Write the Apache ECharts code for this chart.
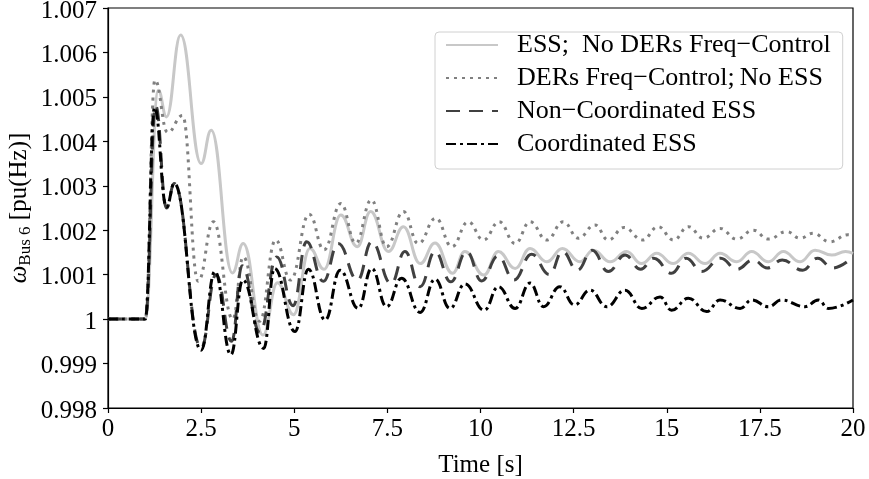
<!DOCTYPE html>
<html>
<head>
<meta charset="utf-8">
<script src="https://cdn.jsdelivr.net/npm/echarts@6/dist/echarts.min.js"></script>
<style>
html,body{margin:0;padding:0;background:#fff;}
#chart{width:869px;height:479px;}
</style>
</head>
<body>
<div id="chart"></div>
<script>
// ---- Data ----
const seriesNames = ['ESS;  No DERs Freq\u2212Control', 'DERs Freq\u2212Control;\u2009No ESS', 'Non\u2212Coordinated ESS', 'Coordinated ESS'];

const xTicks = [0, 2.5, 5, 7.5, 10, 12.5, 15, 17.5, 20];
const yTicks = [0.998, 0.999, 1.000, 1.001, 1.002, 1.003, 1.004, 1.005, 1.006, 1.007];

// ESS; No DERs Freq-Control (light gray solid)
const essT = [0, 1.0, 1.35, 1.57, 1.95, 2.5, 2.77, 3.34, 3.63, 4.16, 4.55, 4.98, 5.42, 5.8, 6.25, 6.69, 7.05, 7.53, 7.93, 8.38, 8.78, 9.25, 9.58, 10.09, 10.48, 10.93, 11.33, 11.78, 12.2, 12.67, 13.03, 13.48, 13.92, 14.32, 14.73, 15.17, 15.58, 16.03, 16.43, 16.88, 17.28, 17.73, 18.13, 18.58, 18.98, 19.43, 19.8, 20];
const essY = [1.0, 1.0, 1.00515, 1.00455, 1.00639, 1.0035, 1.00425, 1.00104, 1.0017, 0.99964, 1.00082, 1.0001, 1.00159, 1.00112, 1.00234, 1.00163, 1.00242, 1.00152, 1.00208, 1.00125, 1.00171, 1.00103, 1.00152, 1.00099, 1.00152, 1.00114, 1.00159, 1.00129, 1.00159, 1.00129, 1.00155, 1.00129, 1.00152, 1.00125, 1.00148, 1.00125, 1.00148, 1.00125, 1.00148, 1.00129, 1.00152, 1.00129, 1.00152, 1.00129, 1.00155, 1.00144, 1.00152, 1.00148];

// DERs Freq-Control; No ESS (gray dotted)
const dersT = [0, 1.0, 1.26, 1.6, 2.0, 2.42, 2.83, 3.35, 3.63, 4.07, 4.5, 4.9, 5.4, 5.8, 6.25, 6.65, 7.07, 7.48, 7.93, 8.33, 8.8, 9.23, 9.67, 10.08, 10.5, 10.93, 11.33, 11.78, 12.22, 12.63, 13.07, 13.43, 13.85, 14.35, 14.77, 15.18, 15.58, 15.98, 16.43, 16.88, 17.32, 17.73, 18.22, 18.58, 18.93, 19.38, 19.87, 20];
const dersY = [1.0, 1.0, 1.00538, 1.0042, 1.00458, 1.00085, 1.00219, 1.0, 1.0014, 0.99995, 1.00178, 1.00088, 1.00236, 1.00156, 1.0026, 1.00171, 1.00268, 1.00163, 1.00242, 1.0017, 1.00227, 1.00163, 1.00219, 1.00178, 1.00219, 1.0017, 1.00219, 1.00178, 1.00219, 1.00182, 1.00212, 1.00178, 1.00206, 1.00178, 1.00208, 1.00178, 1.00208, 1.00182, 1.00204, 1.0018, 1.002, 1.0018, 1.00197, 1.00182, 1.00193, 1.00174, 1.0019, 1.00188];

// Non-Coordinated ESS (dark gray dashed)
const ncT = [0, 1.0, 1.28, 1.57, 1.78, 2.5, 2.9, 3.32, 3.6, 4.08, 4.53, 4.97, 5.33, 5.78, 6.18, 6.7, 7.08, 7.6, 7.97, 8.38, 8.78, 9.2, 9.63, 10.03, 10.47, 10.9, 11.37, 11.85, 12.2, 12.6, 13.0, 13.43, 13.88, 14.3, 14.65, 15.13, 15.52, 15.94, 16.45, 16.88, 17.32, 17.7, 18.1, 18.65, 19.05, 19.45, 20];
const ncY = [1.0, 1.0, 1.0048, 1.0025, 1.00305, 0.99935, 1.001, 0.9995, 1.0012, 0.9997, 1.0014, 1.0003, 1.00174, 1.00085, 1.0017, 1.00088, 1.00174, 1.0008, 1.00152, 1.00073, 1.00152, 1.00084, 1.00152, 1.00086, 1.00142, 1.00088, 1.00146, 1.001, 1.00152, 1.0011, 1.00155, 1.00107, 1.00144, 1.00112, 1.00137, 1.00103, 1.00137, 1.00107, 1.00137, 1.00112, 1.00133, 1.00115, 1.00133, 1.0011, 1.00137, 1.00115, 1.0014];

// Coordinated ESS (black dash-dot)
const cT = [0, 1.0, 1.25, 1.57, 1.78, 2.5, 2.87, 3.3, 3.62, 4.18, 4.47, 5.02, 5.38, 5.83, 6.23, 6.72, 7.08, 7.48, 7.88, 8.38, 8.78, 9.18, 9.58, 10.1, 10.48, 10.93, 11.33, 11.69, 12.13, 12.52, 12.94, 13.39, 13.88, 14.33, 14.82, 15.13, 15.58, 16.07, 16.43, 16.97, 17.28, 17.73, 18.08, 18.71, 19.07, 19.34, 20];
const cY = [1.0, 1.0, 1.00476, 1.00252, 1.00305, 0.9993, 1.00107, 0.9992, 1.00088, 0.99934, 1.00114, 0.99972, 1.00112, 0.99998, 1.0011, 1.00024, 1.00114, 1.00028, 1.00092, 1.00015, 1.0009, 1.00024, 1.00079, 1.0002, 1.00073, 1.00024, 1.00081, 1.00028, 1.00073, 1.00032, 1.00065, 1.00028, 1.00065, 1.00024, 1.0005, 1.0002, 1.00047, 1.00017, 1.00043, 1.00024, 1.00043, 1.00028, 1.00043, 1.00028, 1.00043, 1.00024, 1.00043];

// ---- Chart ----
const zip = (t, y) => t.map((v, i) => [v, y[i]]);
const FONT = '"Liberation Serif", "DejaVu Serif", serif';

function mkSeries(name, t, y, color, width, type) {
  return {
    name: name,
    type: 'line',
    data: zip(t, y),
    showSymbol: false,
    symbol: 'none',
    smooth: 0.45,
    smoothMonotone: 'x',
    lineStyle: { color: color, width: width, type: type, cap: 'butt' },
    itemStyle: { color: color },
    emphasis: { disabled: true },
    animation: false
  };
}

const chart = echarts.init(document.getElementById('chart'), null, { renderer: 'canvas' });
chart.setOption({
  backgroundColor: '#fff',
  animation: false,
  textStyle: { fontFamily: FONT },
  grid: {
    left: 108, right: 16, top: 8, bottom: 71,
    containLabel: false, outerBoundsMode: 'none',
    show: true, borderColor: '#000', borderWidth: 1.2, backgroundColor: 'transparent'
  },
  legend: {
    orient: 'vertical',
    left: 435, top: 32,
    padding: [0, 12, 12, 10],
    itemWidth: 52, itemHeight: 20, itemGap: 7,
    backgroundColor: 'rgba(255,255,255,0.85)',
    borderColor: '#d0d0d0', borderWidth: 1, borderRadius: 4,
    itemStyle: { opacity: 0 },
    textStyle: { fontFamily: FONT, fontSize: 26, lineHeight: 20, color: '#000', padding: [0, 0, 0, 14] },
    data: seriesNames
  },
  xAxis: {
    type: 'value',
    min: xTicks[0], max: xTicks[xTicks.length - 1], interval: 2.5,
    name: 'Time [s]', nameLocation: 'middle', nameGap: 45,
    nameTextStyle: { fontFamily: FONT, fontSize: 25, color: '#000' },
    axisLine: { show: true, lineStyle: { color: '#000', width: 1.2 } },
    axisTick: { show: true, inside: false, length: 5, lineStyle: { color: '#000', width: 1.2 } },
    axisLabel: { fontFamily: FONT, fontSize: 25, color: '#000', margin: 9,
      formatter: v => String(parseFloat(v.toFixed(2))) },
    splitLine: { show: false }
  },
  yAxis: {
    type: 'value',
    min: yTicks[0], max: yTicks[yTicks.length - 1], interval: 0.001,
    name: '{w|\u03c9}{s|Bus 6}{n| [pu(Hz)]}',
    nameLocation: 'middle', nameGap: 72, nameRotate: 90, nameMoveOverlap: false,
    nameTextStyle: {
      fontFamily: FONT, color: '#000',
      rich: {
        w: { fontFamily: FONT, fontSize: 25, fontStyle: 'italic', lineHeight: 34, verticalAlign: 'middle', color: '#000' },
        s: { fontFamily: FONT, fontSize: 17, lineHeight: 34, verticalAlign: 'bottom', color: '#000', padding: [0, 0, 2, 0] },
        n: { fontFamily: FONT, fontSize: 25, lineHeight: 34, verticalAlign: 'middle', color: '#000' }
      }
    },
    axisLine: { show: true, lineStyle: { color: '#000', width: 1.2 } },
    axisTick: { show: true, inside: false, length: 5, lineStyle: { color: '#000', width: 1.2 } },
    axisLabel: { color: '#000', margin: 11,
      formatter: v => '{v|' + String(parseFloat(v.toFixed(3))) + '}',
      rich: { v: { fontFamily: FONT, fontSize: 25, color: '#000', lineHeight: 25, padding: [6, 0, 0, 0] } } },
    splitLine: { show: false }
  },
  series: [
    mkSeries(seriesNames[0], essT, essY, '#c8c8c8', 3, 'solid'),
    mkSeries(seriesNames[1], dersT, dersY, '#808080', 3, [3, 5]),
    mkSeries(seriesNames[2], ncT, ncY, '#404040', 3, [14, 9]),
    mkSeries(seriesNames[3], cT, cY, '#000000', 3, [10, 4, 3, 4])
  ]
});
</script>
</body>
</html>
